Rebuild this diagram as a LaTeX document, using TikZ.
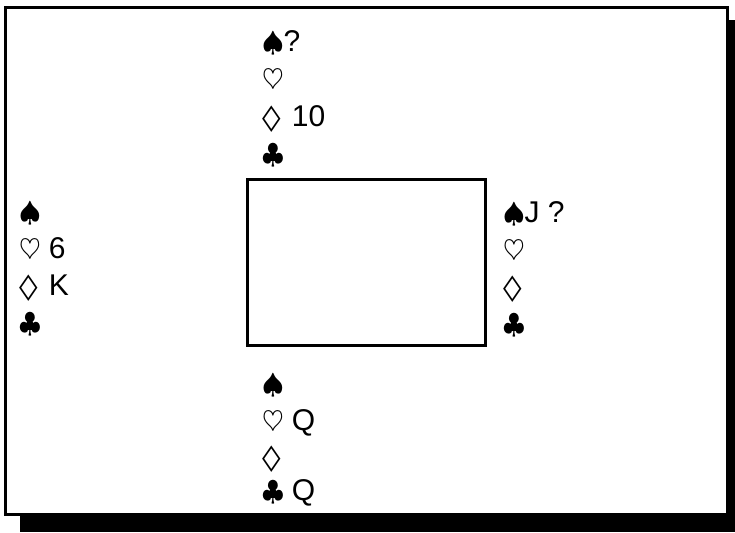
\documentclass[tikz,border=0pt]{standalone}
\usepackage{fix-cm}
\usepackage{graphicx}
\usepackage{fontspec}
\setmainfont{Liberation Sans}
\newfontfamily\dejavu{DejaVu Sans}
\newcommand{\suitbox}[1]{\makebox[0.71em][l]{#1}}
\newcommand{\Sp}{\suitbox{\scalebox{0.93}{$\spadesuit$}}}
\newcommand{\Ht}{\suitbox{\scalebox{0.93}{$\heartsuit$}}}
\newcommand{\Dm}{\suitbox{\dejavu\scalebox{1.25}[0.85]{◊}}}
\newcommand{\Cl}{\suitbox{\scalebox{0.93}{$\clubsuit$}}}
\tikzset{
  handrow/.style={anchor=base west, inner sep=0pt, font=\fontsize{30}{34}\selectfont},
  table/.style={draw, line width=2.5pt, minimum width=238pt, minimum height=166pt, inner sep=0pt}
}
\begin{document}
\begin{tikzpicture}[x=1pt,y=-1pt]
\useasboundingbox (0,0) rectangle (735,532);
\fill[black] (20,20) rectangle (735,532);
\draw[line width=3pt, fill=white] (5.5,7.5) rectangle (727.5,514.5);
\node[table] (tbl) at (366.5,262.5) {};
% North
\node[handrow] (n1) at (262,52) {\Sp?};
\node[handrow] (n2) at (262,89) {\Ht};
\node[handrow] (n3) at (262,126) {\Dm\ 10};
\node[handrow] (n4) at (262,163) {\Cl};
% West
\node[handrow] (w1) at (19,221) {\Sp};
\node[handrow] (w2) at (19,258) {\Ht\ 6};
\node[handrow] (w3) at (19,295) {\Dm\ K};
\node[handrow] (w4) at (19,332) {\Cl};
% East
\node[handrow] (e1) at (503,222) {\Sp J ?};
\node[handrow] (e2) at (503,259) {\Ht};
\node[handrow] (e3) at (503,296) {\Dm};
\node[handrow] (e4) at (503,333) {\Cl};
% South
\node[handrow] (s1) at (262,393) {\Sp};
\node[handrow] (s2) at (262,430) {\Ht\ Q};
\node[handrow] (s3) at (262,466) {\Dm};
\node[handrow] (s4) at (262,500) {\Cl\ Q};
\end{tikzpicture}
\end{document}
